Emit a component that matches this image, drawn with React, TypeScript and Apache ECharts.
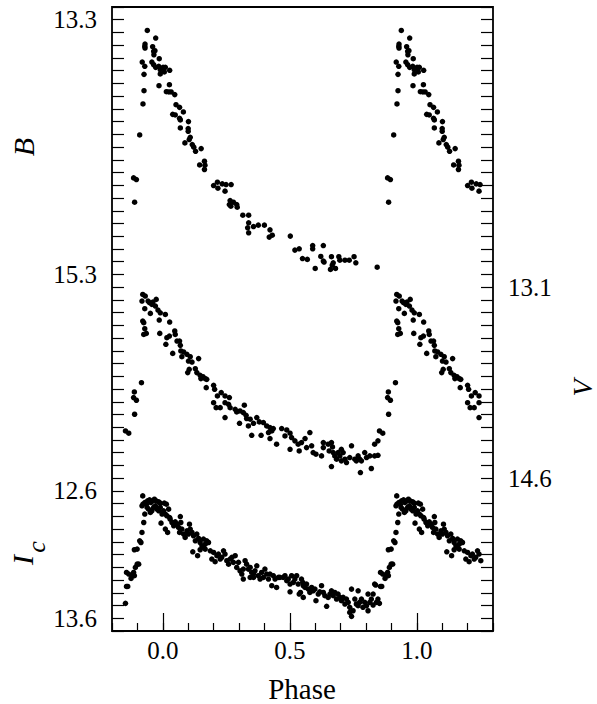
import React, { useEffect, useRef } from "react";
import * as echarts from "echarts";

// ---- Data (phase, magnitude); phases < 0.255 are repeated at phase+1 ----
const bandB: number[][] = [
  [-0.111,14.733],[-0.115,14.542],[-0.104,14.555],[-0.091,14.205],[-0.078,13.961],[-0.074,13.857],
  [-0.074,13.729],[-0.081,13.632],[-0.071,13.666],[-0.071,13.509],[-0.070,13.491],[-0.070,13.522],
  [-0.061,13.384],[-0.028,13.444],[-0.040,13.512],[-0.036,13.548],[-0.031,13.543],[-0.035,13.575],
  [-0.014,13.606],[-0.043,13.632],[-0.036,13.653],[-0.028,13.674],[-0.016,13.666],[-0.010,13.692],
  [-0.010,13.726],[0.001,13.674],[0.010,13.674],[0.006,13.710],[0.027,13.697],[-0.015,13.818],
  [0.026,13.810],[0.014,13.865],[0.024,13.867],[0.033,13.867],[0.047,13.888],[0.052,13.967],
  [0.066,13.988],[0.081,14.024],[0.039,14.043],[0.049,14.048],[0.066,14.074],[0.069,14.087],
  [0.101,14.100],[0.069,14.150],[0.100,14.155],[0.100,14.176],[0.108,14.223],[0.104,14.241],
  [0.087,14.267],[0.116,14.280],[0.122,14.301],[0.129,14.333],[0.151,14.312],[0.145,14.440],
  [0.164,14.411],[0.166,14.442],[0.164,14.476],[0.200,14.602],[0.215,14.576],[0.217,14.623],
  [0.234,14.589],[0.245,14.646],[0.249,14.594],[0.269,14.594],[0.265,14.720],[0.278,14.733],
  [0.262,14.751],[0.268,14.764],[0.291,14.751],[0.293,14.772],[0.315,14.835],[0.338,14.835],
  [0.338,14.895],[0.334,14.934],[0.338,14.973],[0.357,14.924],[0.376,14.913],[0.400,14.913],
  [0.422,14.950],[0.419,15.007],[0.431,14.992],[0.502,14.999],[0.520,15.109],[0.537,15.099],
  [0.550,15.175],[0.569,15.182],[0.590,15.073],[0.590,15.099],[0.632,15.073],[0.622,15.159],
  [0.632,15.195],[0.635,15.203],[0.600,15.253],[0.664,15.161],[0.671,15.209],[0.667,15.227],
  [0.660,15.261],[0.680,15.253],[0.693,15.161],[0.697,15.188],[0.717,15.188],[0.734,15.188],
  [0.753,15.161],[0.760,15.209],[0.844,15.243],
];

const bandV: number[][] = [
  [-0.147,14.229],[-0.134,14.247],[-0.111,14.098],[-0.115,13.967],[-0.104,13.988],[-0.112,13.923],
  [-0.084,13.850],[-0.075,13.471],[-0.065,13.463],[-0.071,13.426],[-0.079,13.366],[-0.075,13.379],
  [-0.071,13.269],[-0.082,13.209],[-0.079,13.157],[-0.069,13.170],[-0.058,13.209],[-0.052,13.222],
  [-0.043,13.235],[-0.039,13.217],[-0.026,13.196],[-0.029,13.248],[-0.019,13.280],[-0.010,13.301],
  [-0.049,13.306],[0.010,13.314],[-0.014,13.358],[0.027,13.374],[-0.012,13.463],[0.016,13.497],
  [0.012,13.549],[0.026,13.484],[0.047,13.444],[0.049,13.471],[0.056,13.523],[0.066,13.523],
  [0.039,13.620],[0.069,13.557],[0.071,13.601],[0.082,13.609],[0.075,13.646],[0.095,13.627],
  [0.108,13.646],[0.101,13.680],[0.141,13.661],[0.115,13.688],[0.098,13.771],[0.104,13.745],
  [0.128,13.740],[0.134,13.771],[0.147,13.792],[0.158,13.803],[0.167,13.818],[0.150,13.818],
  [0.173,13.824],[0.171,13.889],[0.200,13.871],[0.204,13.902],[0.230,13.928],[0.215,13.954],
  [0.245,13.954],[0.262,13.967],[0.200,14.007],[0.210,14.046],[0.226,14.046],[0.245,14.007],
  [0.259,14.020],[0.265,14.046],[0.285,14.059],[0.291,14.080],[0.304,14.072],[0.317,14.085],
  [0.321,14.027],[0.328,14.106],[0.245,14.124],[0.302,14.169],[0.330,14.132],[0.344,14.137],
  [0.370,14.124],[0.380,14.158],[0.357,14.169],[0.337,14.190],[0.396,14.163],[0.409,14.190],
  [0.422,14.203],[0.435,14.210],[0.416,14.242],[0.429,14.229],[0.350,14.263],[0.387,14.263],
  [0.422,14.289],[0.448,14.333],[0.468,14.210],[0.488,14.221],[0.481,14.268],[0.501,14.247],
  [0.507,14.281],[0.520,14.307],[0.501,14.373],[0.533,14.333],[0.537,14.386],
  [0.546,14.320],[0.560,14.289],[0.579,14.242],[0.566,14.360],[0.586,14.346],[0.592,14.399],
  [0.603,14.412],[0.625,14.425],[0.632,14.320],[0.632,14.360],[0.651,14.333],[0.664,14.320],
  [0.668,14.355],[0.655,14.386],[0.671,14.399],[0.677,14.425],[0.690,14.399],[0.684,14.451],
  [0.703,14.373],[0.697,14.425],[0.710,14.399],[0.703,14.464],[0.717,14.451],[0.723,14.477],
  [0.743,14.346],[0.736,14.438],[0.756,14.451],[0.762,14.464],[0.769,14.425],[0.775,14.451],
  [0.782,14.464],[0.795,14.399],[0.802,14.438],[0.815,14.425],[0.834,14.425],[0.847,14.420],
  [0.834,14.333],[0.847,14.307],[0.778,14.556],[0.821,14.524],[0.664,14.509],
];

const bandIc: number[][] = [
  [-0.147,13.483],[-0.143,13.350],[-0.138,13.350],[-0.143,13.240],[-0.134,13.253],[-0.125,13.287],
  [-0.121,13.266],[-0.115,13.240],[-0.112,13.266],[-0.108,13.201],[-0.101,13.175],[-0.095,13.175],
  [-0.112,13.062],[-0.101,13.057],[-0.091,12.992],[-0.086,13.005],[-0.082,12.926],[-0.075,12.848],
  [-0.078,12.704],[-0.082,12.717],[-0.071,12.782],[-0.079,12.639],
  [-0.071,12.691],[-0.065,12.704],[-0.060,12.678],[-0.052,12.670],[-0.047,12.691],[-0.039,12.678],
  [-0.033,12.665],[-0.026,12.678],[-0.016,12.686],[-0.010,12.696],[0.006,12.696],[0.014,12.704],
  [-0.062,12.730],[-0.056,12.743],[-0.049,12.769],[-0.043,12.756],[-0.036,12.730],[-0.029,12.717],
  [-0.023,12.743],[-0.016,12.756],[-0.010,12.730],[-0.003,12.782],[0.003,12.756],[0.010,12.782],
  [0.016,12.795],[0.023,12.743],[0.027,12.809],[-0.007,12.853],[0.010,12.900],[0.019,12.926],
  [0.029,12.822],[0.036,12.848],[0.043,12.874],[0.049,12.843],[0.056,12.861],[0.062,12.887],
  [0.069,12.801],[0.071,12.848],[0.066,12.926],[0.075,12.900],[0.082,12.939],[0.088,12.965],
  [0.095,12.913],[0.101,12.939],[0.108,12.900],[0.105,12.861],[0.115,12.926],[0.121,12.952],
  [0.128,12.992],[0.134,12.939],[0.141,12.973],[0.147,13.005],[0.154,13.031],[0.160,12.978],
  [0.167,13.018],[0.173,12.992],[0.180,13.005],[0.118,13.078],[0.137,13.109],[0.147,13.062],
  [0.160,13.044],[0.167,13.057],[0.187,13.070],[0.193,13.135],[0.200,13.083],[0.206,13.156],
  [0.213,13.109],[0.219,13.096],[0.226,13.135],[0.232,13.122],[0.239,13.070],[0.245,13.096],
  [0.252,13.148],[0.259,13.175],[0.265,13.135],[0.272,13.122],[0.278,13.161],[0.285,13.109],
  [0.291,13.201],[0.298,13.161],[0.304,13.227],[0.311,13.253],[0.317,13.214],[0.324,13.148],
  [0.330,13.175],[0.337,13.214],[0.344,13.201],[0.350,13.240],[0.357,13.253],[0.363,13.227],
  [0.370,13.188],[0.376,13.266],[0.383,13.292],[0.389,13.240],[0.396,13.279],[0.402,13.214],
  [0.409,13.253],[0.416,13.292],[0.422,13.253],[0.429,13.344],[0.435,13.266],[0.442,13.292],
  [0.448,13.358],[0.455,13.279],[0.461,13.279],[0.474,13.279],[0.481,13.266],[0.488,13.305],
  [0.494,13.292],[0.501,13.331],[0.507,13.266],[0.514,13.318],[0.520,13.292],[0.527,13.266],
  [0.533,13.331],[0.537,13.410],[0.501,13.392],[0.317,13.292],[0.357,13.279],[0.344,13.279],
  [0.546,13.292],[0.551,13.318],[0.553,13.344],[0.542,13.397],[0.553,13.436],[0.560,13.358],
  [0.566,13.331],[0.573,13.371],[0.579,13.397],[0.586,13.358],[0.592,13.384],[0.599,13.371],
  [0.603,13.462],[0.612,13.410],[0.618,13.392],[0.625,13.344],[0.632,13.397],[0.638,13.423],
  [0.645,13.506],[0.651,13.436],[0.658,13.410],[0.664,13.384],[0.671,13.423],[0.677,13.397],
  [0.684,13.449],[0.690,13.410],[0.697,13.436],[0.703,13.462],[0.710,13.436],[0.717,13.488],
  [0.723,13.449],[0.730,13.475],[0.736,13.514],[0.736,13.554],[0.743,13.585],[0.743,13.371],
  [0.749,13.541],[0.756,13.449],[0.762,13.488],[0.769,13.384],[0.769,13.501],[0.775,13.475],
  [0.782,13.449],[0.788,13.514],[0.795,13.475],[0.802,13.501],[0.808,13.410],[0.808,13.541],
  [0.815,13.475],[0.821,13.449],[0.828,13.410],[0.828,13.496],[0.834,13.331],[0.841,13.475],
  [0.847,13.449],[0.838,13.339],
];

// Vertical offsets of each band on the common magnitude scale (B units)
const OFFSET_B = 0;
const OFFSET_V = 2.3;
const OFFSET_IC = 4.4;
const WRAP_LIMIT = 0.255;

// Tick labels
const B_TICKS = [13.3, 15.3];
const IC_TICKS = [12.6, 13.6];
const V_TICKS = [13.1, 14.6];
const PHASE_TICKS = [0, 0.5, 1.0];

const Y_MIN = 13.2;
const Y_MAX = 18.1;

function fold(data: number[][], offset: number): number[][] {
  const shifted = data.map(([p, m]) => [p, m + offset]);
  const repeated = shifted.filter(([p]) => p < WRAP_LIMIT).map(([p, m]) => [p + 1, m]);
  return [...shifted, ...repeated];
}

const FONT = "Liberation Serif";

export default function App() {
  const ref = useRef<HTMLDivElement>(null);
  useEffect(() => {
    if (!ref.current) return;
    const chart = echarts.init(ref.current, undefined, { renderer: "svg" });

    const leftLabels = [
      ...B_TICKS.map((v) => ({ pos: v + OFFSET_B, text: v.toFixed(1) })),
      ...IC_TICKS.map((v) => ({ pos: v + OFFSET_IC, text: v.toFixed(1) })),
    ];
    const rightLabels = V_TICKS.map((v) => ({ pos: v + OFFSET_V, text: v.toFixed(1) }));
    const findLabel = (list: { pos: number; text: string }[], val: number) => {
      const f = list.find((l) => Math.abs(l.pos - val) < 1e-6);
      return f ? f.text : "";
    };

    const tickStyle = { color: "#000", width: 1.2 };
    const labelStyle = { fontFamily: FONT, fontSize: 25, color: "#000" };

    const yBase = {
      type: "value" as const,
      min: Y_MIN,
      max: Y_MAX,
      interval: 0.1,
      inverse: true,
      axisLine: { show: false, onZero: false },
      splitLine: { show: false },
      axisTick: { show: true, inside: true, length: 12, lineStyle: tickStyle },
    };

    const mkSeries = (name: string, data: number[][]) => ({
      name,
      type: "scatter" as const,
      data,
      symbol: "circle",
      symbolSize: 5.5,
      itemStyle: { color: "#000", opacity: 1 },
      xAxisIndex: 0,
      yAxisIndex: 0,
    });

    const nameText = (text: string, x: number, y: number, size: number, italic: boolean, rotate: boolean) => ({
      type: "text",
      x,
      y,
      rotation: rotate ? Math.PI / 2 : 0,
      style: {
        text,
        font: `${italic ? "italic " : ""}${size}px ${FONT}`,
        fill: "#000",
        align: "center",
        verticalAlign: "middle",
      },
    });

    chart.setOption({
      animation: false,
      backgroundColor: "#fff",
      textStyle: { fontFamily: FONT },
      grid: {
        left: 112,
        right: 104,
        top: 7,
        bottom: 73,
        show: true,
        borderColor: "#000",
        borderWidth: 1.8,
        backgroundColor: "transparent",
        containLabel: false,
      },
      xAxis: [
        {
          type: "value",
          min: -0.2,
          max: 1.3,
          interval: 0.1,
          position: "bottom",
          axisLine: { show: false, onZero: false },
          splitLine: { show: false },
          axisTick: { show: true, inside: true, length: 8, lineStyle: tickStyle },
          axisLabel: { show: false },
        },
        {
          type: "value",
          min: -0.2,
          max: 1.3,
          interval: 0.1,
          position: "bottom",
          offset: 0,
          axisLine: { show: false, onZero: false },
          splitLine: { show: false },
          axisTick: {
            show: true,
            inside: true,
            length: 18,
            lineStyle: tickStyle,
            customValues: PHASE_TICKS,
          },
          axisLabel: {
            show: true,
            margin: 7,
            customValues: PHASE_TICKS,
            formatter: (v: number) => v.toFixed(1),
            ...labelStyle,
          },
        },
      ],
      yAxis: [
        {
          ...yBase,
          position: "left",
          axisLabel: {
            show: true,
            margin: 15,
            customValues: leftLabels.map((l) => l.pos),
            formatter: (v: number) => findLabel(leftLabels, v),
            padding: [5, 0, 0, 0],
            ...labelStyle,
          },
        },
        {
          ...yBase,
          position: "right",
          axisLabel: {
            show: true,
            margin: 15,
            customValues: rightLabels.map((l) => l.pos),
            formatter: (v: number) => findLabel(rightLabels, v),
            padding: [5, 0, 0, 0],
            ...labelStyle,
          },
        },
      ],
      graphic: [
        nameText("B", 23, 147, 30, true, true),
        nameText("I", 22, 560, 30, true, true),
        nameText("c", 36, 547, 26, true, true),
        nameText("V", 582, 388, 28, true, true),
        nameText("Phase", 302, 689, 29, false, false),
      ],
      series: [
        mkSeries("B", fold(bandB, OFFSET_B)),
        mkSeries("V", fold(bandV, OFFSET_V)),
        mkSeries("Ic", fold(bandIc, OFFSET_IC)),
      ],
    });

    return () => chart.dispose();
  }, []);

  return (
    <div
      ref={ref}
      style={{ position: "fixed", left: 0, top: 0, width: 597, height: 704, background: "#fff" }}
    />
  );
}
